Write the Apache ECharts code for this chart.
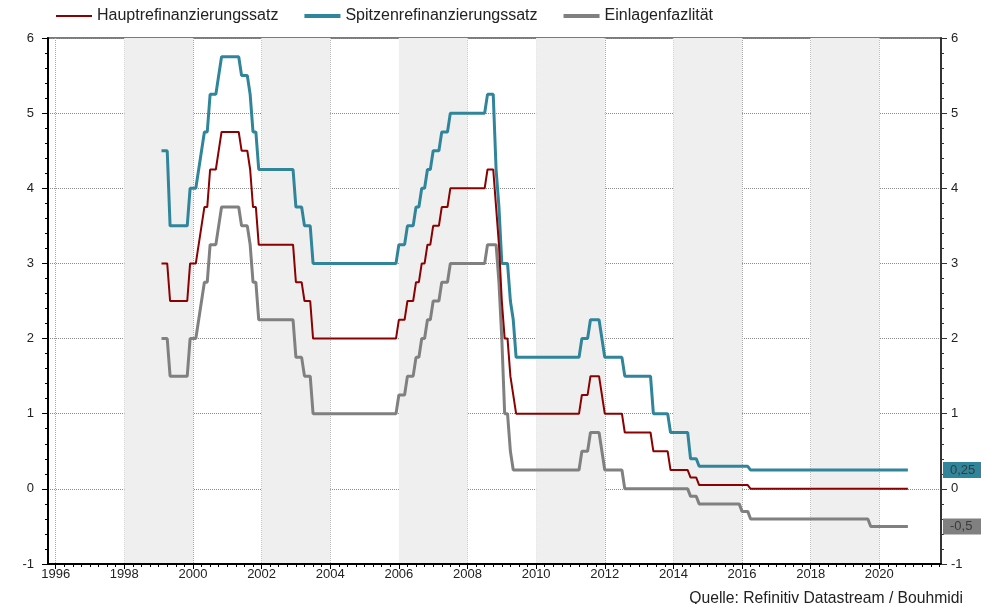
<!DOCTYPE html>
<html><head><meta charset="utf-8">
<script src="https://cdn.jsdelivr.net/npm/echarts@6/dist/echarts.min.js"></script>
<style>html,body{margin:0;padding:0;background:#fff}#c{width:981px;height:604px}</style>
</head><body><div id="c"></div>
<script>
const seriesNames = ['Hauptrefinanzierungssatz', 'Spitzenrefinanzierungssatz', 'Einlagenfazlität'];
const seriesColors = ['#8b0000', '#31859b', '#808080'];

// [month in which the rate changed, new rate] — month-end observations
const mroChanges = [
  ['1999-01', 3.00], ['1999-04', 2.50], ['1999-11', 3.00], ['2000-02', 3.25], ['2000-03', 3.50],
  ['2000-04', 3.75], ['2000-06', 4.25], ['2000-09', 4.50], ['2000-10', 4.75], ['2001-05', 4.50],
  ['2001-08', 4.25], ['2001-09', 3.75], ['2001-11', 3.25], ['2002-12', 2.75], ['2003-03', 2.50],
  ['2003-06', 2.00], ['2005-12', 2.25], ['2006-03', 2.50], ['2006-06', 2.75], ['2006-08', 3.00],
  ['2006-10', 3.25], ['2006-12', 3.50], ['2007-03', 3.75], ['2007-06', 4.00], ['2008-07', 4.25],
  ['2008-10', 3.75], ['2008-11', 3.25], ['2008-12', 2.50], ['2009-01', 2.00], ['2009-03', 1.50],
  ['2009-04', 1.25], ['2009-05', 1.00], ['2011-04', 1.25], ['2011-07', 1.50], ['2011-11', 1.25],
  ['2011-12', 1.00], ['2012-07', 0.75], ['2013-05', 0.50], ['2013-11', 0.25], ['2014-06', 0.15],
  ['2014-09', 0.05], ['2016-03', 0.00]
];
const mlfChanges = [
  ['1999-01', 4.50], ['1999-04', 3.50], ['1999-11', 4.00], ['2000-02', 4.25], ['2000-03', 4.50],
  ['2000-04', 4.75], ['2000-06', 5.25], ['2000-09', 5.50], ['2000-10', 5.75], ['2001-05', 5.50],
  ['2001-08', 5.25], ['2001-09', 4.75], ['2001-11', 4.25], ['2002-12', 3.75], ['2003-03', 3.50],
  ['2003-06', 3.00], ['2005-12', 3.25], ['2006-03', 3.50], ['2006-06', 3.75], ['2006-08', 4.00],
  ['2006-10', 4.25], ['2006-12', 4.50], ['2007-03', 4.75], ['2007-06', 5.00], ['2008-07', 5.25],
  ['2008-10', 4.25], ['2008-11', 3.75], ['2008-12', 3.00], ['2009-03', 2.50], ['2009-04', 2.25],
  ['2009-05', 1.75], ['2011-04', 2.00], ['2011-07', 2.25], ['2011-11', 2.00], ['2011-12', 1.75],
  ['2012-07', 1.50], ['2013-05', 1.00], ['2013-11', 0.75], ['2014-06', 0.40], ['2014-09', 0.30],
  ['2016-03', 0.25]
];
const depChanges = [
  ['1999-01', 2.00], ['1999-04', 1.50], ['1999-11', 2.00], ['2000-02', 2.25], ['2000-03', 2.50],
  ['2000-04', 2.75], ['2000-06', 3.25], ['2000-09', 3.50], ['2000-10', 3.75], ['2001-05', 3.50],
  ['2001-08', 3.25], ['2001-09', 2.75], ['2001-11', 2.25], ['2002-12', 1.75], ['2003-03', 1.50],
  ['2003-06', 1.00], ['2005-12', 1.25], ['2006-03', 1.50], ['2006-06', 1.75], ['2006-08', 2.00],
  ['2006-10', 2.25], ['2006-12', 2.50], ['2007-03', 2.75], ['2007-06', 3.00], ['2008-07', 3.25],
  ['2008-11', 2.75], ['2008-12', 2.00], ['2009-01', 1.00], ['2009-03', 0.50], ['2009-04', 0.25],
  ['2011-04', 0.50], ['2011-07', 0.75], ['2011-11', 0.50], ['2011-12', 0.25], ['2012-07', 0.00],
  ['2014-06', -0.10], ['2014-09', -0.20], ['2015-12', -0.30], ['2016-03', -0.40], ['2019-09', -0.50]
];
const lastMonth = '2020-10';

const yearTicks = [1996, 1998, 2000, 2002, 2004, 2006, 2008, 2010, 2012, 2014, 2016, 2018, 2020];
const shadedBands = [[1998, 2000], [2002, 2004], [2006, 2008], [2010, 2012], [2014, 2016], [2018, 2020]];
const xMin = 1995.776, xMax = 2021.798;
const yMin = -1, yMax = 6;

function monthIndex(s) { const p = s.split('-').map(Number); return p[0] * 12 + p[1] - 1; }
function monthEndX(mi) { return (mi + 1) / 12; }
function buildPath(changes) {
  const pts = [];
  const end = monthIndex(lastMonth);
  for (let i = 0; i < changes.length; i++) {
    const mi = monthIndex(changes[i][0]);
    const v = changes[i][1];
    const until = i + 1 < changes.length ? monthIndex(changes[i + 1][0]) - 1 : end;
    pts.push([monthEndX(mi), v]);
    if (until > mi) pts.push([monthEndX(until), v]);
  }
  return pts;
}
const quarterTicks = [];
for (let q = Math.ceil(xMin * 4); q <= Math.floor(xMax * 4); q++) quarterTicks.push(q / 4);

const FONT = 'Liberation Sans, Arial, sans-serif';
const fmt = v => String(v).replace('.', ',');
const lastVal = arr => arr[arr.length - 1][1];
const legendWidths = [2, 4, 4];

function endLabel(value, bg) {
  return {
    silent: true, symbol: 'none', animation: false,
    lineStyle: { color: 'rgba(0,0,0,0)', width: 0, type: 'solid' },
    label: {
      show: true, position: 'end', distance: 2, formatter: () => fmt(value),
      backgroundColor: bg, color: '#3a3a3a', fontSize: 13, fontFamily: FONT,
      padding: [2, 10, 1, 7]
    },
    emphasis: { disabled: true },
    data: [{ yAxis: value }]
  };
}

const chart = echarts.init(document.getElementById('c'), null, { renderer: 'canvas' });
chart.setOption({
  animation: false,
  backgroundColor: '#fff',
  textStyle: { fontFamily: FONT },
  grid: { left: 48, right: 40, top: 38, bottom: 40, show: true, borderColor: '#7a7a7a', borderWidth: 2, z: 1 },
  legend: {
    data: seriesNames.map((n, i) => ({ name: n, lineStyle: { width: legendWidths[i] } })),
    left: 50, top: 3, itemWidth: 36, itemHeight: 16, itemGap: 24,
    itemStyle: { opacity: 0 },
    textStyle: { fontSize: 16, color: '#222', fontFamily: FONT }
  },
  graphic: [{
    type: 'text', right: 18, bottom: -3,
    style: { text: 'Quelle: Refinitiv Datastream / Bouhmidi', font: '15.7px ' + FONT, fill: '#222' }
  }],
  xAxis: [{
    type: 'value', min: xMin, max: xMax, position: 'bottom', z: 1,
    axisLine: { show: true, onZero: false, lineStyle: { color: '#000', width: 2 } },
    axisTick: { show: true, customValues: yearTicks, length: 5, lineStyle: { color: '#000' } },
    axisLabel: { customValues: yearTicks, formatter: v => String(v), fontSize: 13, color: '#222', margin: 4, fontFamily: FONT },
    splitLine: { show: true, lineStyle: { type: 'dotted', color: '#a8a8a8', width: 1 } }
  }, {
    type: 'value', min: xMin, max: xMax, position: 'bottom', z: 1,
    axisLine: { show: false, onZero: false },
    axisTick: { show: true, customValues: quarterTicks, length: 3, lineStyle: { color: '#000' } },
    axisLabel: { show: false },
    splitLine: { show: false }
  }],
  yAxis: [{
    type: 'value', min: yMin, max: yMax, interval: 1, position: 'left', z: 1,
    axisLine: { show: true, onZero: false, lineStyle: { color: '#000', width: 2 } },
    axisTick: { show: true, length: 6, lineStyle: { color: '#000' } },
    minorTick: { show: true, splitNumber: 5, length: 3, lineStyle: { color: '#000' } },
    axisLabel: { fontSize: 13, color: '#222', margin: 14, fontFamily: FONT },
    splitLine: { show: true, lineStyle: { type: 'dotted', color: '#8a8a8a', width: 1 } }
  }, {
    type: 'value', min: yMin, max: yMax, interval: 1, position: 'right', z: 1,
    axisLine: { show: true, onZero: false, lineStyle: { color: '#333', width: 2 } },
    axisTick: { show: true, length: 6, lineStyle: { color: '#333' } },
    minorTick: { show: true, splitNumber: 5, length: 3, lineStyle: { color: '#333' } },
    axisLabel: { fontSize: 13, color: '#222', margin: 10, fontFamily: FONT },
    splitLine: { show: false }
  }],
  series: [
    {
      type: 'line', name: 'bands', data: [], z: 0, silent: true,
      markArea: { silent: true, itemStyle: { color: '#efefef' }, data: shadedBands.map(b => [{ xAxis: b[0] }, { xAxis: b[1] }]) }
    },
    {
      name: seriesNames[0], type: 'line', data: buildPath(mroChanges), symbol: 'none', z: 4,
      lineStyle: { color: seriesColors[0], width: 2 }, itemStyle: { color: seriesColors[0] }
    },
    {
      name: seriesNames[1], type: 'line', data: buildPath(mlfChanges), symbol: 'none', z: 3,
      lineStyle: { color: seriesColors[1], width: 3 }, itemStyle: { color: seriesColors[1] },
      markLine: endLabel(lastVal(mlfChanges), seriesColors[1])
    },
    {
      name: seriesNames[2], type: 'line', data: buildPath(depChanges), symbol: 'none', z: 3,
      lineStyle: { color: seriesColors[2], width: 3 }, itemStyle: { color: seriesColors[2] },
      markLine: endLabel(lastVal(depChanges), seriesColors[2])
    }
  ]
});
</script></body></html>
